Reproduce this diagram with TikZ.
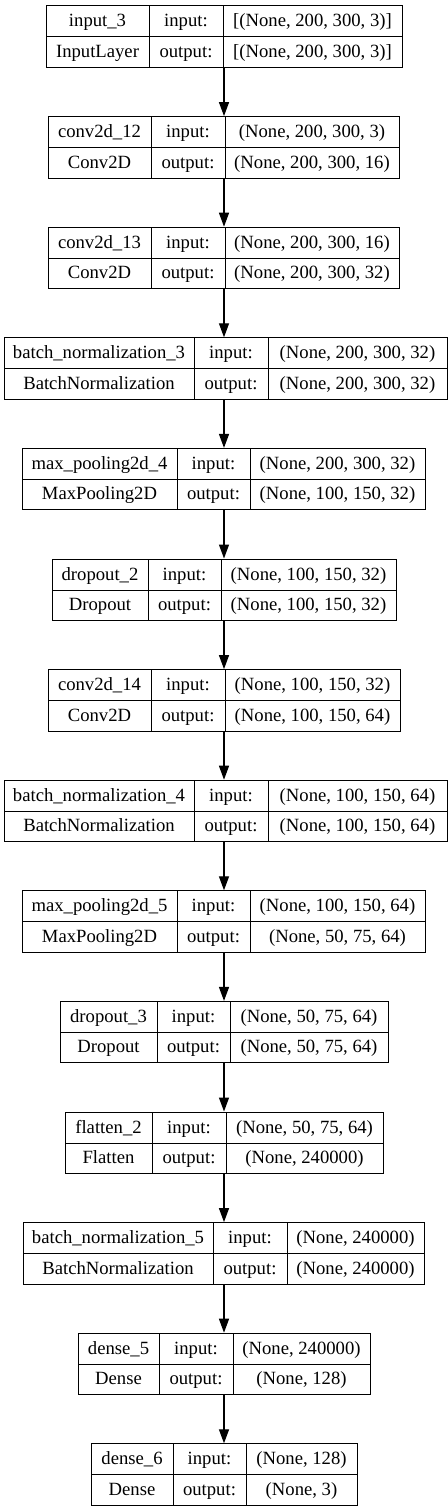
\documentclass[tikz,border=0pt]{standalone}
\usepackage{fontspec}
\setmainfont{Liberation Serif}
\usetikzlibrary{arrows.meta}

\begin{document}
\begin{tikzpicture}[x=0.75pt, y=-0.75pt, line width=0.75pt,
    layerbox/.style={draw, rectangle, inner sep=0pt, minimum height=46.125pt},
    cell/.style={anchor=base, inner sep=0pt, font=\fontsize{14}{16}\selectfont},
    flow/.style={line width=1pt, -{Triangle[length=10.5pt, width=7.5pt]}}]
  \useasboundingbox (0,0) rectangle (448,1512);

  % Les couches du modele
  \foreach \i/\lft/\da/\db/\rgt/\nm/\ty/\inp/\outp in {
    0/46/149/223/402/input\_3/InputLayer/{[(None, 200, 300, 3)]}/{[(None, 200, 300, 3)]},
    1/48/151/225/399/conv2d\_12/Conv2D/{(None, 200, 300, 3)}/{(None, 200, 300, 16)},
    2/48/151/225/399/conv2d\_13/Conv2D/{(None, 200, 300, 16)}/{(None, 200, 300, 32)},
    3/4/194/268/447/batch\_normalization\_3/BatchNormalization/{(None, 200, 300, 32)}/{(None, 200, 300, 32)},
    4/22/177/250/425/max\_pooling2d\_4/MaxPooling2D/{(None, 200, 300, 32)}/{(None, 100, 150, 32)},
    5/52/148/221/396/dropout\_2/Dropout/{(None, 100, 150, 32)}/{(None, 100, 150, 32)},
    6/48/151/225/400/conv2d\_14/Conv2D/{(None, 100, 150, 32)}/{(None, 100, 150, 64)},
    7/4/194/268/447/batch\_normalization\_4/BatchNormalization/{(None, 100, 150, 64)}/{(None, 100, 150, 64)},
    8/22/177/250/425/max\_pooling2d\_5/MaxPooling2D/{(None, 100, 150, 64)}/{(None, 50, 75, 64)},
    9/60/157/230/388/dropout\_3/Dropout/{(None, 50, 75, 64)}/{(None, 50, 75, 64)},
    10/65/152/226/383/flatten\_2/Flatten/{(None, 50, 75, 64)}/{(None, 240000)},
    11/23/213/287/424/batch\_normalization\_5/BatchNormalization/{(None, 240000)}/{(None, 240000)},
    12/78/159/233/370/dense\_5/Dense/{(None, 240000)}/{(None, 128)},
    13/91/173/246/357/dense\_6/Dense/{(None, 128)}/{(None, 3)}} {
    \pgfmathsetmacro\ytop{6+110.6*\i}
    % Le cadre
    \node[layerbox, minimum width={(\rgt-\lft)*0.75pt}] (l\i) at ({(\lft+\rgt)/2}, {\ytop+30.75}) {};
    \draw (\da, \ytop) -- (\da, {\ytop+61.5});
    \draw (\db, \ytop) -- (\db, {\ytop+61.5});
    \draw (\lft, {\ytop+31}) -- (\rgt, {\ytop+31});
    % Les textes
    \node[cell] at ({(\lft+\da)/2}, {\ytop+21}) {\nm};
    \node[cell] at ({(\lft+\da)/2}, {\ytop+51.5}) {\ty};
    \node[cell] at ({(\da+\db)/2}, {\ytop+21}) {input:};
    \node[cell] at ({(\da+\db)/2}, {\ytop+51.5}) {output:};
    \node[cell] at ({(\db+\rgt)/2}, {\ytop+21}) {\inp};
    \node[cell] at ({(\db+\rgt)/2}, {\ytop+51.5}) {\outp};
  }

  % Les fleches entre les couches
  \foreach \i [evaluate=\i as \j using int(\i+1)] in {0,...,12} {
    \draw[flow] (l\i.south -| 224,0) -- (l\j.north -| 224,0);
  }
\end{tikzpicture}
\end{document}
